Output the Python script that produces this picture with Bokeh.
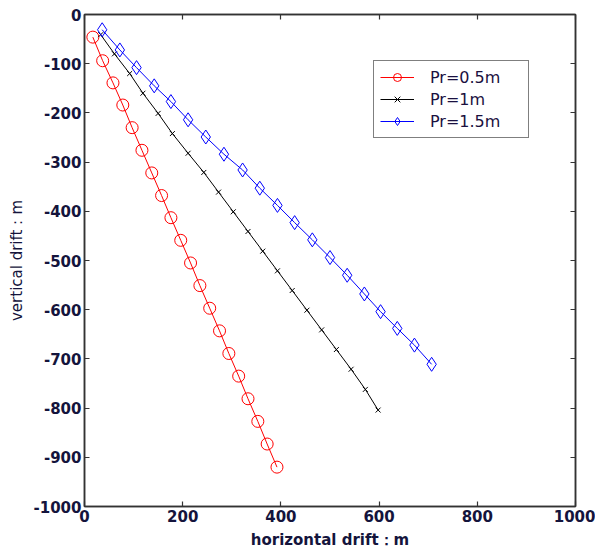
from bokeh.plotting import figure
from bokeh.models import LinearAxis, Range1d, FixedTicker, Legend, LegendItem, PrintfTickFormatter, CustomJSTickFormatter
from bokeh.embed import file_html
from bokeh.resources import INLINE

# Data
red_x = [17, 37, 58, 78, 97, 117, 137, 157, 176, 196, 216, 235, 255, 275, 294, 314, 333, 353, 372, 392]
red_y = [-46, -94, -139, -184, -230, -276, -322, -368, -413, -459, -505, -551, -597, -643, -689, -735, -781, -827, -873, -920]
black_x = [33, 61, 92, 119, 150, 179, 211, 243, 273, 303, 333, 363, 393, 423, 453, 483, 513, 543, 572, 598]
black_y = [-41, -80, -120, -160, -201, -242, -282, -321, -361, -401, -441, -481, -521, -561, -601, -641, -681, -721, -762, -804]
blue_x = [36, 72, 106, 142, 176, 211, 247, 284, 322, 357, 393, 428, 464, 500, 535, 570, 603, 637, 672, 707]
blue_y = [-31, -72, -108, -145, -177, -214, -249, -284, -316, -353, -388, -423, -458, -494, -530, -568, -604, -638, -672, -711]
labels = ["Pr=0.5m", "Pr=1m", "Pr=1.5m"]
x_ticks = [0, 200, 400, 600, 800, 1000]
y_ticks = [0, -100, -200, -300, -400, -500, -600, -700, -800, -900, -1000]

FONT = "DejaVu Sans"
TICK_COLOR = "#14143c"
AX = "#333333"

p = figure(width=595, height=558, output_backend="svg", toolbar_location=None,
           x_range=Range1d(0, 1000), y_range=Range1d(-1000, 0),
           min_border_left=84, min_border_right=20, min_border_top=14, min_border_bottom=52)
p.xgrid.visible = False
p.ygrid.visible = False
p.outline_line_color = AX
p.outline_line_width = 1.5
p.background_fill_color = "white"
p.border_fill_color = "white"

bottom = p.below[0]
left = p.left[0]
top = LinearAxis()
right = LinearAxis()
p.add_layout(top, "above")
p.add_layout(right, "right")

for ax, ticks in ((bottom, x_ticks), (left, y_ticks), (top, x_ticks), (right, y_ticks)):
    ax.ticker = FixedTicker(ticks=ticks)
    ax.formatter = PrintfTickFormatter(format="%d")
    ax.major_tick_in = 5
    ax.major_tick_out = 0
    ax.minor_tick_line_color = None
    ax.axis_line_color = AX
    ax.axis_line_width = 1.5
    ax.major_tick_line_color = AX
    ax.major_tick_line_width = 1.2
    ax.major_label_text_font = FONT
    ax.major_label_text_font_size = "15px"
    ax.major_label_text_font_style = "bold"
    ax.major_label_text_color = TICK_COLOR
    ax.axis_label_text_font = FONT
    ax.axis_label_text_color = TICK_COLOR

for ax in (top, right):
    ax.formatter = CustomJSTickFormatter(code="return ''")
    ax.major_label_standoff = 0

bottom.axis_label = "horizontal drift：m"
bottom.axis_label_text_font_style = "bold"
bottom.axis_label_text_font_size = "15px"
left.axis_label = "vertical drift：m"
left.axis_label_text_font_style = "normal"
left.axis_label_text_font_size = "15px"
bottom.major_label_standoff = 3
left.major_label_standoff = 3
bottom.axis_label_standoff = 6
left.axis_label_standoff = 5

r1 = p.line(red_x, red_y, line_color="red", line_width=1)
m1 = p.scatter(red_x, red_y, marker="circle", size=12, line_color="red", fill_color=None, line_width=1)
r2 = p.line(black_x, black_y, line_color="black", line_width=1)
m2 = p.scatter(black_x, black_y, marker="x", size=7, line_color="black", line_width=1)
r3 = p.line(blue_x, blue_y, line_color="blue", line_width=1)
m3 = p.scatter(blue_x, blue_y, marker="diamond", size=14, line_color="blue", fill_color=None, line_width=1)

legend = Legend(items=[LegendItem(label=labels[0], renderers=[r1, m1]),
                       LegendItem(label=labels[1], renderers=[r2, m2]),
                       LegendItem(label=labels[2], renderers=[r3, m3])],
                location=(289, 368))
legend.label_text_font = FONT
legend.label_text_font_size = "16px"
legend.label_text_color = "#1a1040"
legend.glyph_width = 34
legend.glyph_height = 20
legend.label_height = 20
legend.label_width = 92
legend.spacing = 2
legend.padding = 6
legend.margin = 0
legend.label_standoff = 16
legend.border_line_color = "black"
legend.border_line_width = 1
legend.background_fill_alpha = 1
p.add_layout(legend, "center")

open("out.html", "w").write(file_html(p, INLINE))
